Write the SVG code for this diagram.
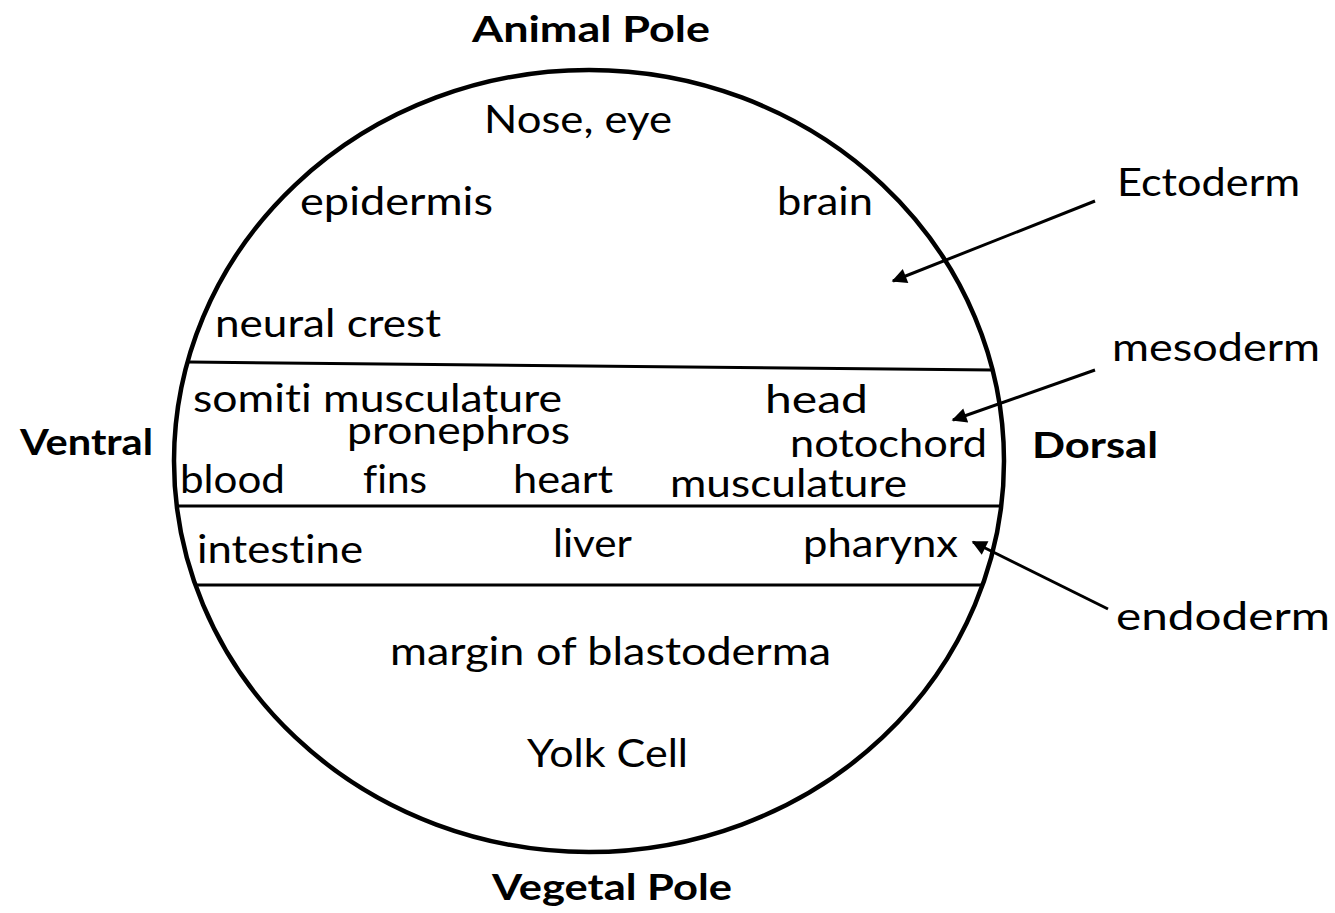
<svg xmlns="http://www.w3.org/2000/svg" width="1335" height="913" viewBox="0 0 1335 913">
<style>
  .t { font-family: Lato, "Open Sans", "Liberation Sans", sans-serif; font-size: 39px; fill: #000; font-variant-ligatures: none; }
  .b { font-family: Lato, "Open Sans", "Liberation Sans", sans-serif; font-size: 37px; font-weight: bold; fill: #000; font-variant-ligatures: none; }
  .ln { stroke: #000; stroke-width: 3; fill: none; }
  .ar { stroke: #000; stroke-width: 3; fill: none; marker-end: url(#ah); }
</style>
<defs>
  <marker id="ah" viewBox="0 0 10 10" refX="9" refY="5" markerWidth="6" markerHeight="5" orient="auto" markerUnits="strokeWidth">
    <path d="M0,0 L10,5 L0,10 Z" fill="#000"/>
  </marker>
</defs>
<rect width="1335" height="913" fill="#fff"/>
<g id="embryo">
  <ellipse cx="589" cy="461" rx="415" ry="391" fill="none" stroke="#000" stroke-width="4.5"/>
  <line class="ln" x1="189" y1="362" x2="993" y2="370"/>
  <line class="ln" x1="177" y1="506" x2="1001" y2="506"/>
  <line class="ln" x1="195" y1="585" x2="983" y2="585"/>
</g>
<g id="poles">
  <text class="b" x="472" y="42" textLength="238" lengthAdjust="spacingAndGlyphs">Animal Pole</text>
  <text class="b" x="492" y="900" textLength="240" lengthAdjust="spacingAndGlyphs">Vegetal Pole</text>
  <text class="b" x="20" y="455" textLength="133" lengthAdjust="spacingAndGlyphs">Ventral</text>
  <text class="b" x="1032" y="458" textLength="126" lengthAdjust="spacingAndGlyphs">Dorsal</text>
</g>
<g id="ectoderm-region">
  <text class="t" x="484" y="133" textLength="188" lengthAdjust="spacingAndGlyphs">Nose, eye</text>
  <text class="t" x="300" y="215" textLength="193" lengthAdjust="spacingAndGlyphs">epidermis</text>
  <text class="t" x="777" y="215" textLength="96" lengthAdjust="spacingAndGlyphs">brain</text>
  <text class="t" x="215" y="337" textLength="226" lengthAdjust="spacingAndGlyphs">neural crest</text>
</g>
<g id="mesoderm-region">
  <text class="t" x="193" y="412" textLength="369" lengthAdjust="spacingAndGlyphs">somiti musculature</text>
  <text class="t" x="347" y="444" textLength="223" lengthAdjust="spacingAndGlyphs">pronephros</text>
  <text class="t" x="180" y="493" textLength="105" lengthAdjust="spacingAndGlyphs">blood</text>
  <text class="t" x="363" y="493" textLength="64" lengthAdjust="spacingAndGlyphs">fins</text>
  <text class="t" x="513" y="493" textLength="100" lengthAdjust="spacingAndGlyphs">heart</text>
  <text class="t" x="765" y="413" textLength="103" lengthAdjust="spacingAndGlyphs">head</text>
  <text class="t" x="790" y="457" textLength="197" lengthAdjust="spacingAndGlyphs">notochord</text>
  <text class="t" x="670" y="497" textLength="237" lengthAdjust="spacingAndGlyphs">musculature</text>
</g>
<g id="endoderm-region">
  <text class="t" x="197" y="563" textLength="166" lengthAdjust="spacingAndGlyphs">intestine</text>
  <text class="t" x="553" y="557" textLength="79" lengthAdjust="spacingAndGlyphs">liver</text>
  <text class="t" x="803" y="557" textLength="155" lengthAdjust="spacingAndGlyphs">pharynx</text>
</g>
<g id="yolk-region">
  <text class="t" x="390" y="665" textLength="441" lengthAdjust="spacingAndGlyphs">margin of blastoderma</text>
  <text class="t" x="527" y="767" textLength="161" lengthAdjust="spacingAndGlyphs">Yolk Cell</text>
</g>
<g id="labels">
  <text class="t" x="1117" y="196" textLength="183" lengthAdjust="spacingAndGlyphs">Ectoderm</text>
  <text class="t" x="1112" y="361" textLength="208" lengthAdjust="spacingAndGlyphs">mesoderm</text>
  <text class="t" x="1116" y="630" textLength="214" lengthAdjust="spacingAndGlyphs">endoderm</text>
</g>
<g id="connectors">
  <line class="ar" x1="1095" y1="201" x2="893" y2="281"/>
  <line class="ar" x1="1095" y1="370" x2="953" y2="420"/>
  <line class="ar" x1="1108" y1="609" x2="973" y2="542"/>
</g>
</svg>
